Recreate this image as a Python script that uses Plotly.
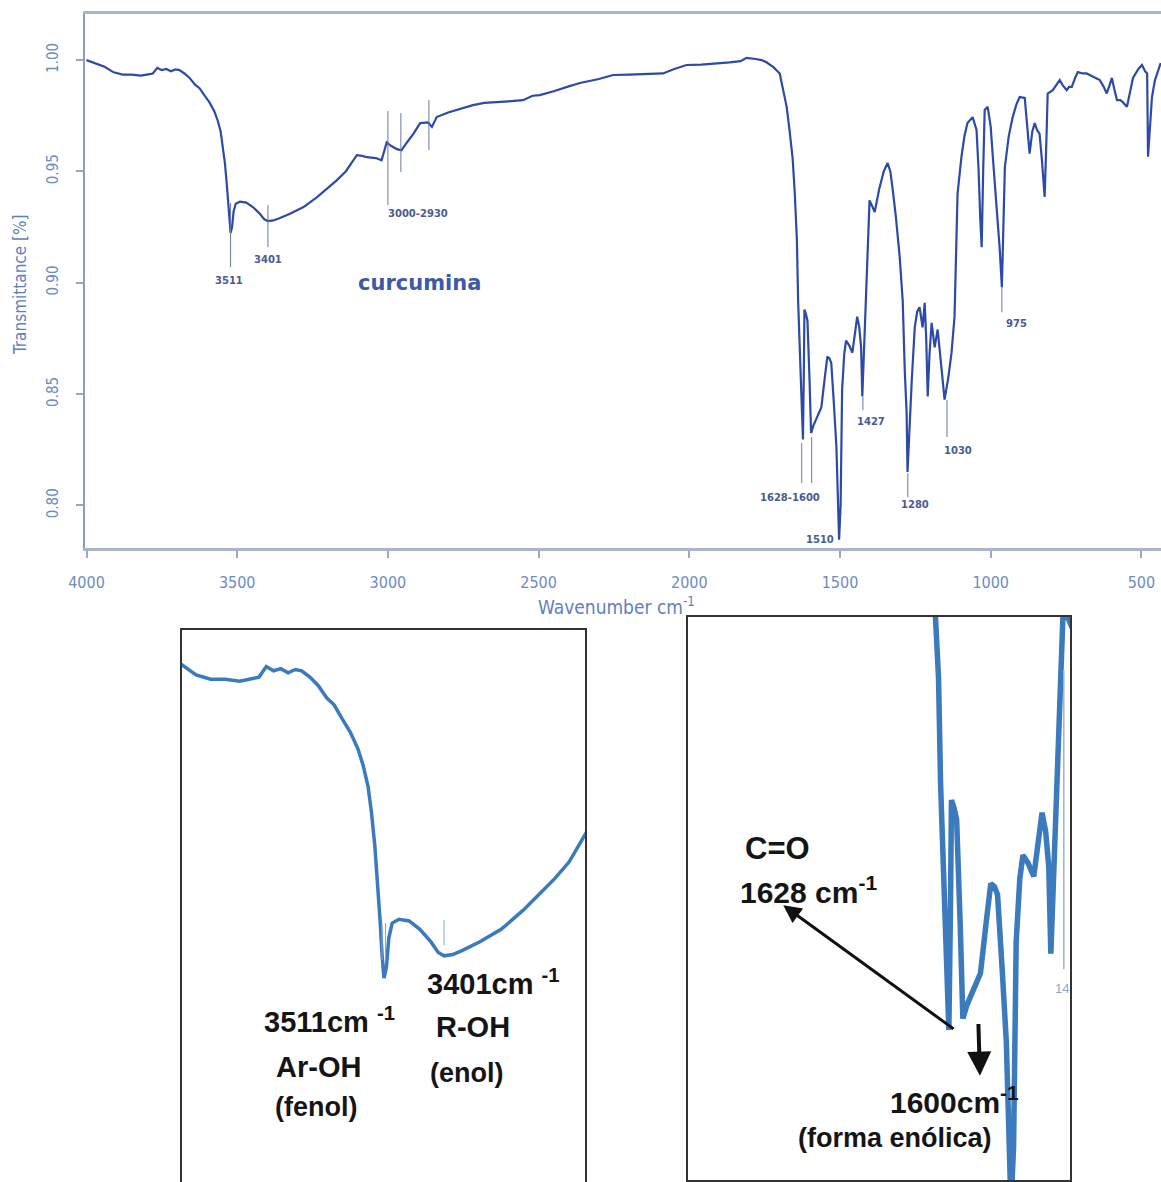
import plotly.graph_objects as go

W, H = 1161, 1182

# ---------------- data ----------------
wavenumber = [4000, 3970, 3940, 3910, 3880, 3850, 3820, 3800, 3780, 3765, 3750, 3735, 3720, 3705, 3692,
              3675, 3658, 3640, 3625, 3608, 3592, 3576, 3565, 3555, 3548, 3541, 3535, 3530, 3526, 3522,
              3517, 3512, 3505, 3491, 3470, 3448, 3425, 3410, 3398, 3380, 3360, 3325, 3280, 3235, 3200,
              3170, 3140, 3103, 3085, 3070, 3040, 3021, 3004, 2990, 2970, 2955, 2937, 2915, 2893, 2867,
              2854, 2838, 2800, 2760, 2718, 2680, 2640, 2600, 2552, 2520, 2496, 2450, 2400, 2363, 2300,
              2253, 2200, 2150, 2087, 2050, 2009, 1960, 1920, 1866, 1830, 1810, 1780, 1760, 1744, 1722,
              1700, 1689, 1677, 1667, 1657, 1650, 1643, 1639, 1636, 1633, 1627, 1623, 1620, 1618, 1613,
              1608, 1601, 1596, 1588, 1579, 1562, 1550, 1542, 1535, 1529, 1520, 1512, 1503, 1498, 1493,
              1486, 1480, 1470, 1459, 1450, 1443, 1436, 1430, 1426, 1420, 1417, 1413, 1408, 1402, 1392,
              1385, 1370, 1355, 1342, 1333, 1325, 1315, 1302, 1292, 1285, 1279, 1276, 1270, 1262, 1252,
              1244, 1236, 1226, 1219, 1214, 1209, 1203, 1196, 1186, 1176, 1165, 1153, 1140, 1130, 1120,
              1115, 1110, 1097, 1087, 1077, 1060, 1047, 1040, 1035, 1030, 1025, 1020, 1010, 1000, 993,
              980, 970, 963, 958, 953, 940, 927, 915, 904, 887, 878, 871, 862, 854, 846,
              838, 830, 821, 815, 811, 794, 780, 771, 760, 748, 740, 731, 720, 711, 695,
              682, 660, 638, 625, 615, 605, 598, 590, 581, 570, 561, 548, 538, 528, 510,
              498, 488, 481, 478, 472, 465, 455, 448, 436]
transmittance = [1.000, 0.9985, 0.997, 0.9945, 0.9935, 0.9935, 0.993, 0.9935, 0.994, 0.9965, 0.9955, 0.996, 0.995, 0.9958, 0.9955,
                 0.994, 0.992, 0.989, 0.9874, 0.984, 0.981, 0.977, 0.973, 0.968, 0.962, 0.954, 0.945, 0.936, 0.928, 0.9224,
                 0.925, 0.932, 0.9355, 0.9364, 0.936, 0.934, 0.931, 0.9285, 0.9277, 0.928, 0.929, 0.931, 0.934, 0.9385, 0.9425,
                 0.946, 0.950, 0.9573, 0.957, 0.9564, 0.956, 0.955, 0.963, 0.9615, 0.960, 0.9595, 0.963, 0.967, 0.9717, 0.972,
                 0.970, 0.9744, 0.9765, 0.978, 0.9798, 0.9808, 0.981, 0.9815, 0.982, 0.984, 0.9843, 0.986, 0.9882, 0.9897, 0.9915,
                 0.9933, 0.9935, 0.9937, 0.994, 0.996, 0.9978, 0.998, 0.9983, 0.999, 0.9995, 1.001, 1.0005, 1.000, 0.999, 0.997,
                 0.994, 0.986, 0.979, 0.968, 0.9556, 0.940, 0.919, 0.892, 0.880, 0.871, 0.8417, 0.8296, 0.860, 0.888, 0.886,
                 0.883, 0.856, 0.8325, 0.836, 0.8386, 0.844, 0.858, 0.8668, 0.866, 0.864, 0.845, 0.8265, 0.7846, 0.800, 0.852,
                 0.868, 0.874, 0.872, 0.8686, 0.878, 0.8848, 0.880, 0.871, 0.849, 0.870, 0.8865, 0.901, 0.920, 0.937, 0.934,
                 0.9318, 0.942, 0.950, 0.9538, 0.950, 0.9417, 0.930, 0.9117, 0.892, 0.860, 0.8417, 0.815, 0.835, 0.856, 0.880,
                 0.887, 0.889, 0.880, 0.891, 0.875, 0.849, 0.868, 0.882, 0.871, 0.879, 0.865, 0.8475, 0.858, 0.8686, 0.8848,
                 0.915, 0.940, 0.9566, 0.966, 0.9717, 0.9744, 0.9686, 0.950, 0.930, 0.916, 0.950, 0.9776, 0.979, 0.970, 0.9566,
                 0.935, 0.915, 0.898, 0.930, 0.952, 0.966, 0.9744, 0.980, 0.9834, 0.983, 0.970, 0.958, 0.968, 0.9717, 0.9685,
                 0.967, 0.955, 0.9386, 0.965, 0.985, 0.9865, 0.989, 0.991, 0.9885, 0.9865, 0.988, 0.988, 0.992, 0.9946, 0.994,
                 0.994, 0.9925, 0.991, 0.988, 0.985, 0.989, 0.992, 0.987, 0.982, 0.982, 0.981, 0.979, 0.986, 0.992, 0.996,
                 0.9978, 0.995, 0.994, 0.9566, 0.970, 0.9834, 0.991, 0.994, 0.9987]

x_ticks = [4000, 3500, 3000, 2500, 2000, 1500, 1000, 500]
y_ticks = [0.80, 0.85, 0.90, 0.95, 1.00]

# peak marker lines in main chart: (wavenumber, top T, bottom T)
peak_line_x = [3522, 3398, 3000, 2957, 2864, 1627, 1594, 1424, 1275, 1145, 963]
peak_line_top = [0.9358, 0.9349, 0.9771, 0.9762, 0.9820, 0.8280, 0.8307, 0.8487, 0.8145, 0.8473, 0.8980]
peak_line_bot = [0.9070, 0.9160, 0.9349, 0.9497, 0.9596, 0.8100, 0.8100, 0.8428, 0.8038, 0.8307, 0.8868]

# peak labels in main chart
peak_label_text = ["3511", "3401", "3000-2930", "1628-1600", "1510", "1427", "1280", "1030", "975"]
peak_label_x = [3527, 3398, 2900, 1667, 1567, 1398, 1252, 1109, 916]
peak_label_y = [0.9012, 0.9106, 0.9313, 0.8038, 0.7845, 0.8379, 0.8006, 0.8249, 0.8815]

# small marks inside the left inset
inset1_mark_x = [3526, 3519, 3398]
inset1_mark_top = [0.9355, 0.9355, 0.9362]
inset1_mark_bot = [0.9267, 0.9267, 0.9302]

# ---------------- helpers ----------------
def pxx(x):
    return x / W

def pxy(y):
    return 1 - y / H

MAIN_LINE = "#2c4aa6"
INSET_LINE = "#3a7abd"
LABEL_C = "#4a5b8f"
TICK_C = "#6d8bc6"
NARROW = "Liberation Sans Narrow, DejaVu Sans Condensed, Arial, sans-serif"
BOLDF = "Liberation Sans, Arial, sans-serif"

fig = go.Figure()

# main spectrum
fig.add_trace(go.Scatter(x=wavenumber, y=transmittance, mode="lines",
                         line=dict(color=MAIN_LINE, width=2.2), xaxis="x", yaxis="y",
                         hoverinfo="skip", showlegend=False))

# peak marker lines (main)
lx, ly = [], []
for xv, t, b in zip(peak_line_x, peak_line_top, peak_line_bot):
    lx += [xv, xv, None]
    ly += [t, b, None]
fig.add_trace(go.Scatter(x=lx, y=ly, mode="lines", line=dict(color="#6a78a3", width=1),
                         xaxis="x", yaxis="y", hoverinfo="skip", showlegend=False))

# inset 1 (O-H region)
fig.add_trace(go.Scatter(x=wavenumber, y=transmittance, mode="lines",
                         line=dict(color=INSET_LINE, width=3.5), xaxis="x2", yaxis="y2",
                         hoverinfo="skip", showlegend=False))
mx, my = [], []
for xv, t, b in zip(inset1_mark_x, inset1_mark_top, inset1_mark_bot):
    mx += [xv, xv, None]
    my += [t, b, None]
fig.add_trace(go.Scatter(x=mx, y=my, mode="lines", line=dict(color="#7fa6d3", width=1),
                         xaxis="x2", yaxis="y2", hoverinfo="skip", showlegend=False))

# inset 2 (C=O region)
fig.add_trace(go.Scatter(x=wavenumber, y=transmittance, mode="lines",
                         line=dict(color=INSET_LINE, width=5.5), xaxis="x3", yaxis="y3",
                         hoverinfo="skip", showlegend=False))
# clipped 1427 marker and label inside inset 2
fig.add_trace(go.Scatter(x=[1401, 1401], y=[0.921, 0.845], mode="lines",
                         line=dict(color="#9fb3cf", width=1.5), xaxis="x3", yaxis="y3",
                         hoverinfo="skip", showlegend=False))
fig.add_trace(go.Scatter(x=[1418], y=[0.8398], mode="text", text=["1427"],
                         textposition="middle right", cliponaxis=True,
                         textfont=dict(family=BOLDF, size=13, color="#8da6c8"),
                         xaxis="x3", yaxis="y3", hoverinfo="skip", showlegend=False))

annotations = []
for t, xv, yv in zip(peak_label_text, peak_label_x, peak_label_y):
    annotations.append(dict(x=xv, y=yv, xref="x", yref="y", text="<b>%s</b>" % t, showarrow=False,
                            xanchor="center", yanchor="middle",
                            font=dict(family="DejaVu Sans, sans-serif", size=10, color=LABEL_C)))
annotations.append(dict(x=2894, y=0.8999, xref="x", yref="y", text="<b>curcumina</b>", showarrow=False,
                        xanchor="center", yanchor="middle",
                        font=dict(family="DejaVu Sans, sans-serif", size=21, color="#3c5aa6")))

# axis titles
annotations.append(dict(x=pxx(20), y=pxy(285), xref="paper", yref="paper", text="Transmittance [%]",
                        textangle=-90, showarrow=False, xanchor="center", yanchor="middle",
                        font=dict(family=NARROW, size=17, color="#5f7fc0")))
annotations.append(dict(x=pxx(536), y=pxy(606), xref="paper", yref="paper", text="Wavenumber cm<sup>-1</sup>",
                        xanchor="left", yanchor="middle", showarrow=False,
                        font=dict(family=NARROW, size=19, color="#5f7fc0")))

# inset texts
def txt(x, y, s, size, xanchor="center"):
    return dict(x=pxx(x), y=pxy(y), xref="paper", yref="paper", text="<b>%s</b>" % s, showarrow=False,
                xanchor=xanchor, yanchor="middle", font=dict(family=BOLDF, size=size, color="#151515"))

annotations += [
    txt(262, 1020, "3511cm <sup>-1</sup>", 29, "left"),
    txt(318, 1067, "Ar-OH", 29),
    txt(316, 1107, "(fenol)", 27),
    txt(425, 982, "3401cm <sup>-1</sup>", 29, "left"),
    txt(473, 1027, "R-OH", 29),
    txt(467, 1073, "(enol)", 27),
    txt(777, 848, "C=O", 31),
    txt(738, 890, "1628 cm<sup>-1</sup>", 30, "left"),
    txt(888, 1100, "1600cm<sup>-1</sup>", 30, "left"),
    txt(895, 1138, "(forma enólica)", 27),
]

# arrows in inset 2
annotations.append(dict(x=1943, y=0.8613, ax=1611, ay=0.8296, xref="x3", yref="y3", axref="x3", ayref="y3",
                        showarrow=True, arrowhead=2, arrowsize=1.2, arrowwidth=3, arrowcolor="#111111", text=""))
annotations.append(dict(x=1563, y=0.8180, ax=1566, ay=0.8315, xref="x3", yref="y3", axref="x3", ayref="y3",
                        showarrow=True, arrowhead=2, arrowsize=1.2, arrowwidth=4, arrowcolor="#111111", text=""))

inset_axis = dict(showgrid=False, zeroline=False, showticklabels=False, ticks="", automargin=False)

fig.update_layout(
    width=W, height=H,
    margin=dict(l=0, r=0, t=0, b=0, autoexpand=False),
    paper_bgcolor="white", plot_bgcolor="white",
    showlegend=False,
    xaxis=dict(domain=[pxx(85), 1.0], range=[4005, 435], tickvals=x_ticks,
               ticktext=[str(v) for v in x_ticks], ticks="outside", ticklen=7, tickwidth=1.5,
               tickcolor="#9aa6c4", showline=True, linecolor="#a9b3cc", linewidth=2.5, mirror=True,
               showgrid=False, zeroline=False, ticklabelstandoff=11, automargin=False,
               tickfont=dict(family=NARROW, size=16, color=TICK_C), anchor="y"),
    yaxis=dict(domain=[pxy(548), pxy(14)], range=[0.7809, 1.0207], tickvals=y_ticks,
               ticktext=["%.2f" % v for v in y_ticks], tickangle=-90, ticks="outside", ticklen=7,
               tickwidth=1.5, tickcolor="#9aa6c4", showline=True, linecolor="#8e9cc0", linewidth=2,
               showgrid=False, zeroline=False, ticklabelstandoff=12, automargin=False,
               tickfont=dict(family=NARROW, size=15, color=TICK_C), anchor="x"),
    xaxis2=dict(inset_axis, domain=[pxx(182), pxx(585)], range=[3939, 3107], anchor="y2",
                showline=True, side="top", linecolor="#333333", linewidth=1.5),
    yaxis2=dict(inset_axis, domain=[0.0, pxy(630)], range=[0.8739, 1.0052], anchor="x2",
                showline=True, mirror=True, linecolor="#333333", linewidth=1.5),
    xaxis3=dict(inset_axis, domain=[pxx(688), pxx(1070)], range=[2127, 1389], anchor="y3",
                showline=True, mirror=True, linecolor="#333333", linewidth=1.5),
    yaxis3=dict(inset_axis, domain=[pxy(1180), pxy(617)], range=[0.7915, 0.9345], anchor="x3",
                showline=True, mirror=True, linecolor="#333333", linewidth=1.5),
    annotations=annotations,
)

fig.write_html("out.html")
